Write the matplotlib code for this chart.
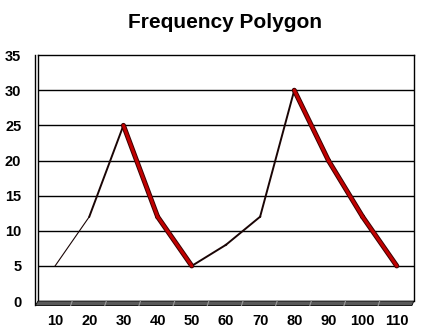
import matplotlib
matplotlib.use("Agg")
import matplotlib.pyplot as plt
from matplotlib.patches import Polygon

# class midpoints and frequencies
classes = ["10", "20", "30", "40", "50", "60", "70", "80", "90", "100", "110"]
freq = [5, 12, 25, 12, 5, 8, 12, 30, 20, 12, 5]
yticks = [0, 5, 10, 15, 20, 25, 30, 35]

plt.rcParams["font.family"] = ["Liberation Sans", "DejaVu Sans"]

fig = plt.figure(figsize=(4.32, 3.36), dpi=100)
ax = fig.add_axes([0.088, 0.104, 0.870, 0.732])

x = list(range(len(classes)))

# horizontal gridlines
for v in yticks[1:-1]:
    ax.axhline(v, color="black", lw=1.0, zorder=1)

# draw each segment; falling parts use the thick red ribbon look
for i in range(len(x) - 1):
    xs = [x[i], x[i + 1]]
    ys = [freq[i], freq[i + 1]]
    if ys[1] < ys[0]:
        ax.plot(xs, ys, color="#3a0000", lw=3.6, solid_capstyle="round", zorder=3)
        ax.plot(xs, ys, color="#c00000", lw=2.2, solid_capstyle="round", zorder=4)
    else:
        w = 0.8 if i == 0 else 1.4
        ax.plot(xs, ys, color="#1a0505", lw=w, zorder=3)

ax.set_xlim(-0.5, len(classes) - 0.5)
ax.set_ylim(0, 35)
ax.set_xticks(x)
ax.set_xticklabels(classes)
ax.set_yticks(yticks)
ax.tick_params(length=0, labelsize=10.5)
ax.tick_params(axis="x", pad=9)
ax.tick_params(axis="y", pad=12)
for lab in ax.get_xticklabels() + ax.get_yticklabels():
    lab.set_fontweight("bold")

for side in ["top", "right", "left"]:
    ax.spines[side].set_linewidth(1.0)
ax.spines["bottom"].set_visible(False)

# second line of the left wall
ax.plot([-0.007, -0.007], [-0.015, 1.0], transform=ax.transAxes,
        color="black", lw=1.0, clip_on=False)

# grey floor strip under the plot
floor = Polygon([(-0.007, -0.018), (0.995, -0.018), (1.0, 0.0), (0.0, 0.0)],
                closed=True, transform=ax.transAxes, facecolor="#5a5a5a",
                edgecolor="black", lw=0.6, clip_on=False, zorder=5)
ax.add_patch(floor)
for i in range(1, len(classes)):
    xf = i / len(classes)
    ax.plot([xf, xf - 0.004], [0.0, -0.018], transform=ax.transAxes,
            color="#9a9a9a", lw=0.8, clip_on=False, zorder=6)

fig.suptitle("Frequency Polygon", x=0.52, y=0.96, fontsize=15, fontweight="bold")

fig.savefig("out.png", dpi=100)
